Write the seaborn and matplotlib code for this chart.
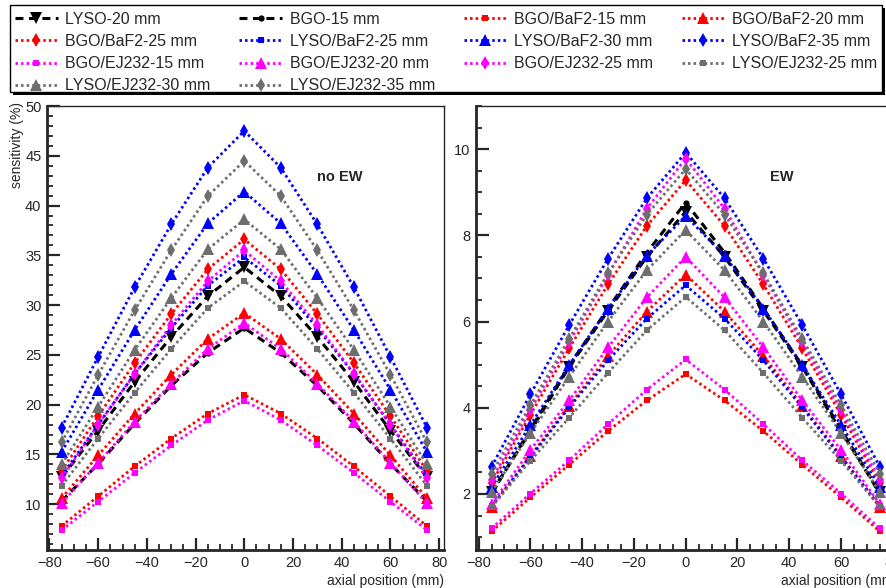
import numpy as np
import pandas as pd
import matplotlib
matplotlib.use("Agg")
import matplotlib.pyplot as plt
from matplotlib.ticker import MultipleLocator
from matplotlib.patches import Rectangle
import seaborn as sns

# ---------------- data ----------------
positions = [-75, -60, -45, -30, -15, 0, 15, 30, 45, 60, 75]

labels = ["LYSO-20 mm", "BGO-15 mm", "BGO/BaF2-15 mm", "BGO/BaF2-20 mm",
          "BGO/BaF2-25 mm", "LYSO/BaF2-25 mm", "LYSO/BaF2-30 mm", "LYSO/BaF2-35 mm",
          "BGO/EJ232-15 mm", "BGO/EJ232-20 mm", "BGO/EJ232-25 mm", "LYSO/EJ232-25 mm",
          "LYSO/EJ232-30 mm", "LYSO/EJ232-35 mm"]

# no EW (%)
noew_lyso20       = [12.7, 17.4, 22.3, 26.8, 30.9, 33.8, 30.9, 26.8, 22.3, 17.4, 12.7]
noew_bgo15        = [10.3, 14.05, 18.1, 21.9, 25.2, 27.7, 25.2, 21.9, 18.1, 14.05, 10.3]
noew_bgo_baf2_15  = [7.8, 10.8, 13.8, 16.6, 19.1, 21.0, 19.1, 16.6, 13.8, 10.8, 7.8]
noew_bgo_baf2_20  = [10.6, 14.9, 19.1, 23.0, 26.6, 29.2, 26.6, 23.0, 19.1, 14.9, 10.6]
noew_bgo_baf2_25  = [13.35, 18.85, 24.2, 29.1, 33.6, 36.6, 33.6, 29.1, 24.2, 18.85, 13.35]
noew_lyso_baf2_25 = [12.85, 18.0, 23.1, 27.7, 31.95, 34.8, 31.95, 27.7, 23.1, 18.0, 12.85]
noew_lyso_baf2_30 = [15.25, 21.5, 27.5, 33.1, 38.2, 41.4, 38.2, 33.1, 27.5, 21.5, 15.25]
noew_lyso_baf2_35 = [17.7, 24.8, 31.8, 38.1, 43.8, 47.5, 43.8, 38.1, 31.8, 24.8, 17.7]
noew_bgo_ej_15    = [7.4, 10.25, 13.15, 15.9, 18.45, 20.4, 18.45, 15.9, 13.15, 10.25, 7.4]
noew_bgo_ej_20    = [10.1, 14.15, 18.3, 22.1, 25.6, 28.2, 25.6, 22.1, 18.3, 14.15, 10.1]
noew_bgo_ej_25    = [12.6, 18.0, 23.1, 28.0, 32.4, 35.5, 32.4, 28.0, 23.1, 18.0, 12.6]
noew_lyso_ej_25   = [11.85, 16.6, 21.2, 25.6, 29.7, 32.4, 29.7, 25.6, 21.2, 16.6, 11.85]
noew_lyso_ej_30   = [14.0, 19.8, 25.5, 30.7, 35.6, 38.6, 35.6, 30.7, 25.5, 19.8, 14.0]
noew_lyso_ej_35   = [16.2, 23.0, 29.5, 35.5, 40.95, 44.5, 40.95, 35.5, 29.5, 23.0, 16.2]

# EW (%)
ew_lyso20       = [2.05, 3.45, 4.95, 6.25, 7.5, 8.55, 7.5, 6.25, 4.95, 3.45, 2.05]
ew_bgo15        = [2.0, 3.5, 4.98, 6.3, 7.6, 8.76, 7.6, 6.3, 4.98, 3.5, 2.0]
ew_bgo_baf2_15  = [1.13, 1.92, 2.68, 3.46, 4.17, 4.78, 4.17, 3.46, 2.68, 1.92, 1.13]
ew_bgo_baf2_20  = [1.69, 2.88, 4.05, 5.2, 6.23, 7.09, 6.23, 5.2, 4.05, 2.88, 1.69]
ew_bgo_baf2_25  = [2.25, 3.84, 5.38, 6.86, 8.22, 9.28, 8.22, 6.86, 5.38, 3.84, 2.25]
ew_lyso_baf2_25 = [1.72, 2.85, 4.01, 5.1, 6.07, 6.84, 6.07, 5.1, 4.01, 2.85, 1.72]
ew_lyso_baf2_30 = [2.16, 3.6, 4.99, 6.3, 7.53, 8.45, 7.53, 6.3, 4.99, 3.6, 2.16]
ew_lyso_baf2_35 = [2.63, 4.31, 5.92, 7.46, 8.86, 9.92, 8.86, 7.46, 5.92, 4.31, 2.63]
ew_bgo_ej_15    = [1.2, 2.01, 2.78, 3.62, 4.42, 5.12, 4.42, 3.62, 2.78, 2.01, 1.2]
ew_bgo_ej_20    = [1.76, 3.02, 4.17, 5.4, 6.56, 7.5, 6.56, 5.4, 4.17, 3.02, 1.76]
ew_bgo_ej_25    = [2.32, 3.95, 5.52, 7.08, 8.62, 9.78, 8.62, 7.08, 5.52, 3.95, 2.32]
ew_lyso_ej_25   = [1.7, 2.77, 3.77, 4.81, 5.8, 6.57, 5.8, 4.81, 3.77, 2.77, 1.7]
ew_lyso_ej_30   = [2.04, 3.41, 4.72, 6.0, 7.19, 8.12, 7.19, 6.0, 4.72, 3.41, 2.04]
ew_lyso_ej_35   = [2.47, 4.06, 5.6, 7.12, 8.48, 9.54, 8.48, 7.12, 5.6, 4.06, 2.47]

noew_series = [noew_lyso20, noew_bgo15, noew_bgo_baf2_15, noew_bgo_baf2_20,
               noew_bgo_baf2_25, noew_lyso_baf2_25, noew_lyso_baf2_30, noew_lyso_baf2_35,
               noew_bgo_ej_15, noew_bgo_ej_20, noew_bgo_ej_25, noew_lyso_ej_25,
               noew_lyso_ej_30, noew_lyso_ej_35]
ew_series = [ew_lyso20, ew_bgo15, ew_bgo_baf2_15, ew_bgo_baf2_20,
             ew_bgo_baf2_25, ew_lyso_baf2_25, ew_lyso_baf2_30, ew_lyso_baf2_35,
             ew_bgo_ej_15, ew_bgo_ej_20, ew_bgo_ej_25, ew_lyso_ej_25,
             ew_lyso_ej_30, ew_lyso_ej_35]

# ---------------- styles ----------------
GRAY = "#6e6e6e"
colors = ["black", "black", "red", "red", "red", "blue", "blue", "blue",
          "magenta", "magenta", "magenta", GRAY, GRAY, GRAY]
markers = ["v", "o", "s", "^", "d", "s", "^", "d", "s", "^", "d", "s", "^", "d"]
msizes = {"v": 8, "o": 4.5, "s": 4.8, "^": 8, "d": 7.5}
DOT = (0, (0.9, 1.1))
DASH = (0, (2.6, 1.8))
lstyles = [DASH, DASH] + [DOT] * 12

sns.set_style("ticks")
plt.rcParams["font.family"] = ["Liberation Sans", "DejaVu Sans"]

fig = plt.figure(figsize=(8.87, 5.88), dpi=100)
W, H = 887, 588

def px_axes(l, r, t, b):
    return fig.add_axes([l / W, (H - b) / H, (r - l) / W, (b - t) / H])

axL = px_axes(47, 444, 106, 550)
axR = px_axes(476, 898, 106, 550)

handles = []
for ax, series in ((axL, noew_series), (axR, ew_series)):
    for i, vals in enumerate(series):
        df = pd.DataFrame({"pos": positions, "sens": vals})
        lw = 2.2 if i < 2 else 2.0
        sns.lineplot(data=df, x="pos", y="sens", ax=ax, color=colors[i],
                     linestyle=lstyles[i], linewidth=lw, marker=markers[i],
                     markersize=msizes[markers[i]], markeredgecolor=colors[i],
                     markeredgewidth=0, markerfacecolor=colors[i],
                     label=labels[i], errorbar=None, sort=False)
        if ax is axL:
            handles.append(ax.lines[-1])
    if ax.get_legend() is not None:
        ax.get_legend().remove()

for ax in (axL, axR):
    ax.set_xlim(-81, 82)
    ax.xaxis.set_major_locator(MultipleLocator(20))
    ax.xaxis.set_minor_locator(MultipleLocator(5))
    ax.tick_params(axis="both", which="major", direction="in", length=9, width=1.6,
                   labelsize=10.5, top=False, right=False, pad=4)
    ax.tick_params(axis="both", which="minor", direction="in", length=4.5, width=1.3,
                   top=False, right=False)
    for s in ("left", "bottom"):
        ax.spines[s].set_linewidth(2.0)
    for s in ("top", "right"):
        ax.spines[s].set_linewidth(1.0)
    ax.set_ylabel("")
    ax.xaxis.set_label_coords(1.0, -0.053)
    ax.set_xlabel("axial position (mm)", fontsize=10, ha="right")

axL.set_ylim(5.4, 50)
axL.yaxis.set_major_locator(MultipleLocator(5))
axL.yaxis.set_minor_locator(MultipleLocator(1))
axR.set_ylim(0.7, 11.0)
axR.yaxis.set_major_locator(MultipleLocator(2))
axR.yaxis.set_minor_locator(MultipleLocator(0.5))

axL.set_ylabel("sensitivity (%)", fontsize=10, ha="right")
axL.yaxis.set_label_coords(-0.058, 1.01)

axL.text((340 - 47) / 397, (550 - 177) / 444, "no EW", transform=axL.transAxes,
         fontsize=10.5, fontweight="bold", ha="center", va="center")
axR.text((782 - 476) / 422, (550 - 177) / 444, "EW", transform=axR.transAxes,
         fontsize=10.5, fontweight="bold", ha="center", va="center")

# legend frame (ROOT style with solid shadow)
bx0, bx1, by0, by1 = 10, 882, 5, 92
fig.patches.append(Rectangle(((bx0 + 3) / W, (H - by1 - 3) / H), (bx1 - bx0) / W,
                             (by1 - by0) / H, transform=fig.transFigure,
                             facecolor="black", edgecolor="none", zorder=0))
fig.patches.append(Rectangle((bx0 / W, (H - by1) / H), (bx1 - bx0) / W,
                             (by1 - by0) / H, transform=fig.transFigure,
                             facecolor="white", edgecolor="black", linewidth=1.0,
                             zorder=1))

# legend: matplotlib fills columns first, ROOT fills rows -> reorder
ncol = 4
col_lists = [[] for _ in range(ncol)]
for idx in range(len(handles)):
    col_lists[idx % ncol].append(idx)
order = [k for c in col_lists for k in c]
leg = fig.legend([handles[k] for k in order], [labels[k] for k in order],
                 ncol=ncol, loc="upper left", mode="expand",
                 bbox_to_anchor=(10 / W, (H - 93) / H, 872 / W, 86 / H),
                 frameon=False,
                 fontsize=11.5, handlelength=2.7, handletextpad=0.45,
                 borderaxespad=0, borderpad=0.3, labelspacing=0.45,
                 columnspacing=0.5)

fig.savefig("out.png", dpi=100)
